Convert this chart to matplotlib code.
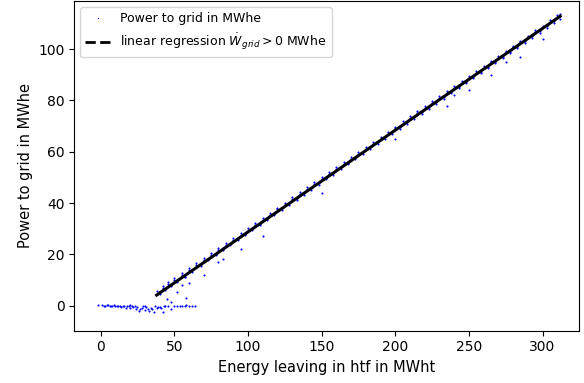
import numpy as np
import matplotlib
matplotlib.use("Agg")
import matplotlib.pyplot as plt
from matplotlib.lines import Line2D

# Main cluster (energy leaving in htf [MWht], power to grid [MWhe])
x_main = [38, 40, 42, 44, 46, 48, 50, 52, 55, 57, 60, 62, 65, 68, 70, 73, 75, 78, 80, 83,
          85, 88, 90, 93, 95, 98, 100, 103, 105, 108, 110, 113, 115, 118, 120, 123, 125, 128,
          130, 133, 135, 138, 140, 143, 145, 148, 150, 153, 155, 158, 160, 163, 165, 168, 170,
          173, 175, 178, 180, 183, 185, 188, 190, 193, 195, 198, 200, 203, 205, 208, 210, 213,
          215, 218, 220, 223, 225, 228, 230, 233, 235, 238, 240, 243, 245, 248, 250, 253, 255,
          258, 260, 263, 265, 268, 270, 273, 275, 278, 280, 283, 285, 288, 290, 293, 295, 298,
          300, 303, 305, 308, 310, 312]
y_main = [4.4, 5.2, 6.9, 6.5, 8.3, 7.9, 9.9, 10.0, 11.9, 11.2, 13.8, 14.0, 15.9, 16.2, 17.8,
          18.3, 19.7, 20.1, 21.8, 22.3, 23.6, 24.1, 25.7, 26.3, 27.6, 28.1, 29.6, 30.2, 31.6,
          32.0, 33.5, 34.2, 35.5, 36.1, 37.5, 38.0, 39.4, 40.1, 41.4, 42.0, 43.4, 44.0, 45.3,
          46.0, 47.4, 47.9, 49.3, 50.0, 51.3, 51.8, 53.3, 53.9, 55.3, 55.8, 57.2, 57.8, 59.2,
          59.7, 61.2, 61.8, 63.1, 63.6, 65.1, 65.7, 67.1, 67.6, 69.1, 69.7, 71.0, 71.5, 73.0,
          73.5, 75.0, 75.4, 77.0, 77.4, 79.0, 79.3, 80.9, 81.2, 82.9, 83.2, 84.9, 85.2, 86.9,
          87.1, 88.8, 89.1, 90.8, 91.0, 92.8, 93.0, 94.8, 95.0, 96.7, 97.0, 98.7, 99.0, 100.7,
          101.0, 102.7, 103.0, 104.6, 105.0, 106.6, 107.0, 108.6, 109.0, 110.5, 111.0, 112.6,
          113.5]
# Wider spread of the same band (same htf energies)
y_band = [5.9, 4.6, 7.5, 6.2, 9.1, 7.7, 10.6, 9.3, 12.6, 11.3, 14.6, 13.3, 16.5, 15.6, 18.5,
          17.6, 20.5, 19.6, 22.5, 21.5, 24.4, 23.5, 26.4, 25.5, 28.4, 27.5, 30.4, 29.4, 32.3,
          31.4, 34.3, 33.4, 36.3, 35.4, 38.2, 37.3, 40.2, 39.3, 42.2, 41.3, 44.2, 43.2, 46.1,
          45.2, 48.1, 47.2, 50.1, 49.2, 52.1, 51.1, 54.0, 53.1, 56.0, 55.1, 58.0, 57.1, 59.9,
          59.0, 61.9, 61.0, 63.9, 63.0, 65.9, 64.9, 67.8, 66.9, 69.8, 68.9, 71.8, 70.9, 73.8,
          72.8, 75.7, 74.8, 77.7, 76.8, 79.7, 78.8, 81.6, 80.7, 83.6, 82.7, 85.6, 84.7, 87.6,
          86.6, 89.5, 88.6, 91.5, 90.6, 93.5, 92.6, 95.4, 94.5, 97.4, 96.5, 99.4, 98.5, 101.4,
          100.4, 103.3, 102.4, 105.3, 104.4, 107.3, 106.4, 109.2, 108.3, 111.2, 110.3, 113.2,
          111.9]

# Scattered points below the main band
x_out = [45, 48, 52, 55, 58, 60, 70, 80, 83, 95, 110, 150, 200, 235, 250, 265, 285, 300, 240, 275]
y_out = [2.5, 1.5, 5.5, 8.0, 3.0, 9.0, 12.0, 17.0, 18.0, 22.0, 27.0, 44.0, 65.0, 78.0, 84.0,
         90.0, 97.0, 104.0, 82.0, 95.0]

# Low-load cluster around zero
x_zero = [-2, 2, 4, 6, 8, 10, 12, 14, 15, 17, 18, 20, 22, 24, 25, 27, 28, 30, 32, 33, 35, 36,
          38, 40, 42, 44, 46, 48, 50, 55, 58, 62, 30, 20, 26, 34, 1, 3, 5, 7, 9, 11, 13, 16,
          19, 21, 23, 29, 31, 37, 39, 41, 43, 52, 54, 57, 60, 64]
y_zero = [0.3, 0.0, 0.2, -0.1, 0.0, -0.3, -0.2, -0.5, 0.0, -0.8, -0.3, -1.0, -0.6, -1.2, -0.4,
          -1.5, -0.9, -1.8, -1.2, -2.0, -1.5, -2.3, -1.0, -0.5, -2.5, -0.3, 0.0, -1.5, -0.2,
          0.0, 0.1, 0.0, 0.0, 0.1, -2.0, -0.8, 0.1, 0.0, 0.2, 0.0, 0.1, -0.1, 0.0, -0.2,
          0.0, -0.3, 0.0, -0.1, -0.4, -0.2, -0.6, -1.1, -0.2, 0.0, 0.0, 0.0, 0.0, 0.0]

x_all = np.array(x_zero + x_main + x_main + x_out, dtype=float)
y_all = np.array(y_zero + y_main + y_band + y_out, dtype=float)

mask = y_all > 1
coef = np.polyfit(x_all[mask], y_all[mask], 1)
xfit = np.array([x_all[mask].min(), x_all[mask].max()])
yfit = np.polyval(coef, xfit)

fig = plt.figure(figsize=(5.84, 3.83), dpi=100)
ax = fig.add_axes([0.127, 0.137, 0.865, 0.86])

ax.plot(x_all, y_all, '.', color='blue', markersize=3, markeredgewidth=0)
ax.plot(xfit, yfit, '-', color='black', lw=2.2)

ax.set_xlim(-18, 325)
ax.set_ylim(-9.7, 118.7)

handles = [Line2D([], [], marker='.', ls='', color='blue', markersize=2, markeredgewidth=0),
           Line2D([], [], ls='--', color='black', lw=2)]
labels = ['Power to grid in MWhe', r'linear regression $\dot{W}_{grid}>0$ MWhe']
ax.legend(handles, labels, loc='upper left', fontsize=9)

ax.set_xlabel('Energy leaving in htf in MWht', fontsize=10.5)
ax.set_ylabel('Power to grid in MWhe', fontsize=10.5)
ax.tick_params(labelsize=10)

fig.savefig('out.png', dpi=100)
